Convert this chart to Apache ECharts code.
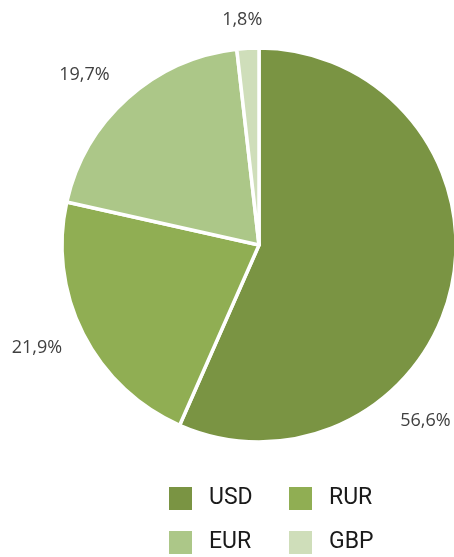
<!DOCTYPE html>
<html>
<head>
<meta charset="utf-8">
<script src="https://cdn.jsdelivr.net/npm/echarts@6/dist/echarts.min.js"></script>
<style>html,body{margin:0;padding:0;background:#fff;}#c{width:454px;height:557px;}</style>
</head>
<body>
<div id="c"></div>
<script>
const categories = ['USD', 'RUR', 'EUR', 'GBP'];
const values = [56.6, 21.9, 19.7, 1.8];
const colors = ['#7a9443', '#90ae53', '#acc788', '#cfdeba'];
const legendColumns = [['USD', 'EUR'], ['RUR', 'GBP']];

const chart = echarts.init(document.getElementById('c'), null, {renderer: 'canvas'});
const labelShift = [[-84, 130], [9, 1], [6, -3], [21, 0]];
const legendBase = {
  top: 485,
  height: 100,
  padding: 0,
  orient: 'vertical',
  itemWidth: 25,
  itemHeight: 25,
  itemGap: 17,
  icon: 'rect',
  textStyle: {
    fontFamily: "Roboto, 'Open Sans', sans-serif",
    fontSize: 23,
    color: '#1a1a1a',
    padding: [0, 0, 0, 11]
  }
};
chart.setOption({
  animation: false,
  color: colors,
  legend: [
    Object.assign({}, legendBase, {data: legendColumns[0], left: 167}),
    Object.assign({}, legendBase, {data: legendColumns[1], left: 287})
  ],
  series: [{
    type: 'pie',
    center: [259, 245],
    radius: [0, 197],
    startAngle: 90,
    clockwise: true,
    avoidLabelOverlap: false,
    itemStyle: {borderColor: '#fff', borderWidth: 3.5},
    label: {
      show: true,
      position: 'outside',
      fontFamily: "'Open Sans', sans-serif",
      fontSize: 18,
      color: '#404040',
      formatter: p => p.value.toFixed(1).replace('.', ',') + '%'
    },
    labelLine: {show: false, length: 28, length2: 0},
    labelLayout: p => ({dx: labelShift[p.dataIndex][0], dy: labelShift[p.dataIndex][1]}),
    data: categories.map((c, i) => ({name: c, value: values[i]}))
  }]
});
</script>
</body>
</html>
